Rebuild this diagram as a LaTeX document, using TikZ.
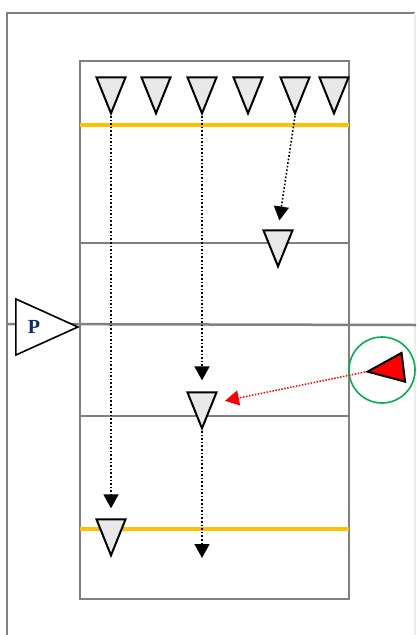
\documentclass[tikz,border=0pt]{standalone}
\usepackage{fontspec}
\newfontfamily\pfont{Liberation Serif}
\usetikzlibrary{shapes.geometric,arrows.meta,calc}
\definecolor{framegray}{HTML}{808080}
\definecolor{lineorange}{HTML}{FFC000}
\definecolor{ringgreen}{HTML}{00B050}
\definecolor{pnavy}{HTML}{0F2A6B}

\begin{document}
\begin{tikzpicture}[x=1pt,y=-1pt,
  frame/.style={draw=framegray,line width=2.5pt},
  band/.style={draw=lineorange,line width=4.5pt},
  cone/.style={isosceles triangle,isosceles triangle stretches,draw=black,line width=2pt,
    fill=gray!18,inner sep=0pt,minimum width=29pt,minimum height=36pt,rotate=-90,anchor=apex},
  move/.style={dotted,line width=1.6pt,-{Triangle[width=15pt,length=14pt]}}]
  \useasboundingbox (0,0) rectangle (416,635);
  % field
  \draw[frame] (7,635) -- (7,13) -- (415,13);
  \draw[draw=gray!15,line width=1.5pt] (415,13) -- (415,635);
  \draw[frame] (80,61) rectangle (349,599);
  \draw[frame] (80,243) -- (349,243);
  \draw[frame] (7,324) -- (416,325);
  \draw[frame] (80,416) -- (349,416);
  \draw[band] (80,125) -- (349,125);
  \draw[band] (80,529) -- (349,529);
  % players
  \foreach \i/\x in {1/111,2/156,3/202,4/248,5/295,6/334}
    \node[cone] (t\i) at (\x,116) {};
  \node[cone] (d) at (278,269) {};
  \node[cone] (m) at (202,431) {};
  \node[cone] (b) at (111,558) {};
  \node[isosceles triangle,isosceles triangle stretches,draw=black,line width=1.6pt,fill=white,
    inner sep=0pt,minimum width=56pt,minimum height=62pt,anchor=apex] (p) at (80,327) {};
  \node[text=pnavy,font=\pfont\bfseries\fontsize{20}{20}\selectfont] at (34,327) {P};
  \node[circle,draw=ringgreen,line width=1.6pt,minimum size=66pt,inner sep=0pt] (ring) at (382,370) {};
  \node[cone,fill=red,rotate=-83] (r) at (365,372) {};
  \coordinate (end) at (202,558);
  % runs
  \draw[move,shorten >=10pt] (t1.apex) -- (b.lower side);
  \draw[move,shorten >=11pt] (t3.apex) -- (m.lower side);
  \draw[move,shorten >=9pt] (t5.apex) -- (d.lower side);
  \draw[move] (m.apex) -- (end);
  \draw[red,line width=1.5pt,dash pattern=on 1.5pt off 1.5pt,-{Triangle[width=15pt,length=14pt]},
    shorten >=12pt] (r.apex) -- ($(m.left corner)!0.3!(m.apex)$);
\end{tikzpicture}
\end{document}
